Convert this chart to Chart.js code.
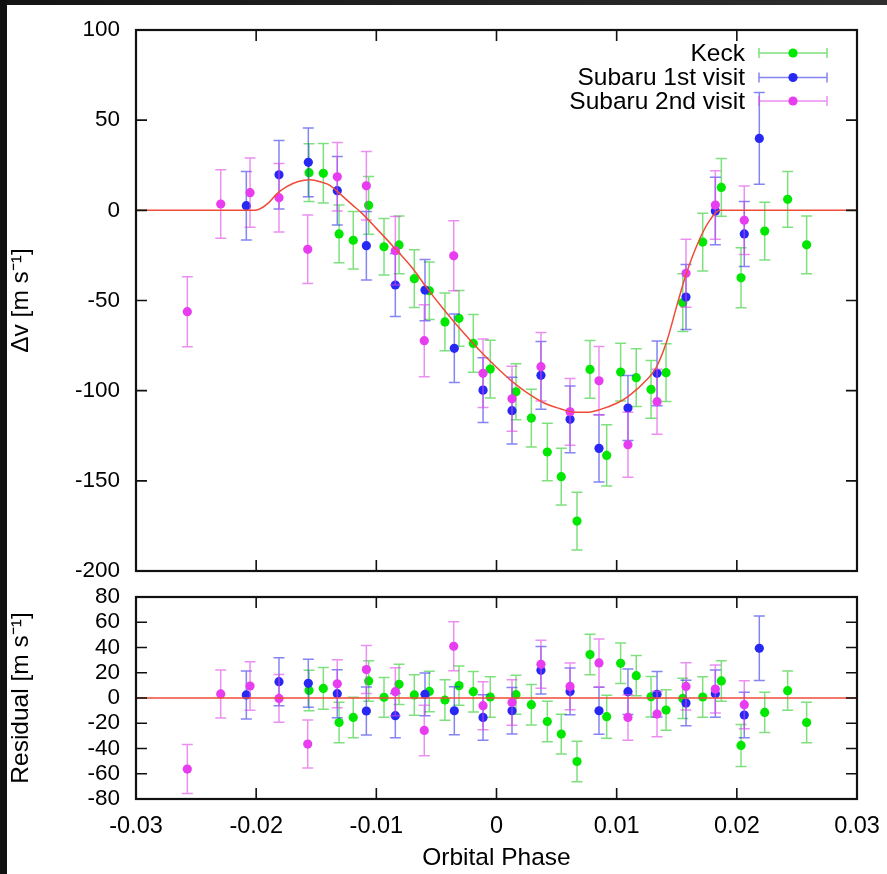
<!DOCTYPE html>
<html>
<head>
<meta charset="utf-8">
<script src="https://cdn.jsdelivr.net/npm/chart.js@4.4.1/dist/chart.umd.min.js"></script>
<style>
  html, body { margin: 0; padding: 0; background: #fff; }
  #wrap { position: relative; width: 887px; height: 874px; overflow: hidden; background: #fff; }
  #wrap canvas { position: absolute; left: 0; top: 0; }
  #frameTop { position: absolute; left: 0; top: 0; width: 887px; height: 5px; background: linear-gradient(to right, #141414, #2e2e2e); }
  #frameLeft { position: absolute; left: 0; top: 0; width: 7px; height: 874px; background: #111; }
</style>
</head>
<body>
<div id="wrap">
  <canvas id="rvChart" width="887" height="874"></canvas>
  <canvas id="resChart" width="887" height="874"></canvas>
  <div id="frameTop"></div>
  <div id="frameLeft"></div>
</div>
<script>
// Keck
var keckPhase = [-0.01560, -0.01441, -0.01310, -0.01192, -0.01064, -0.00936, -0.00811, -0.00684, -0.00559, -0.00429,
                 -0.00312, -0.00193, -0.00052, 0.00162, 0.00290, 0.00423, 0.00539, 0.00670, 0.00778, 0.00917,
                 0.01033, 0.01163, 0.01286, 0.01411, 0.01550, 0.01716, 0.01871, 0.02035, 0.02232, 0.02423, 0.02581];
var keckRv = [20.9, 20.5, -13.1, -16.6, 2.8, -20.2, -19.2, -37.9, -44.6, -61.9,
              -59.9, -73.8, -88.0, -100.6, -115.2, -134.0, -147.7, -172.3, -88.2, -135.9,
              -89.7, -92.8, -99.3, -90.0, -51.2, -17.6, 12.7, -37.4, -11.5, 6.1, -19.1];
var keckErr = [16, 16.5, 16, 16, 16, 15.7, 16, 16, 16, 16,
               15.5, 16, 16, 15.5, 16, 16, 15.7, 16, 16, 17,
               16, 16, 16, 16, 16, 16, 16, 16.6, 16, 15.5, 16];
var keckRes = [6.0, 7.6, -19.4, -15.4, 13.5, 0.5, 10.8, 2.4, 5.2, -1.6,
               9.8, 5.0, 0.8, 2.6, -5.3, -18.6, -28.6, -50.3, 34.4, -14.8,
               27.5, 17.7, 1.0, -9.5, -0.3, 0.8, 13.5, -37.6, -11.4, 5.8, -19.4];

// Subaru 1st visit
var sub1Phase = [-0.02082, -0.01810, -0.01566, -0.01325, -0.01083, -0.00842, -0.00595, -0.00351, -0.00112, 0.00129,
                 0.00370, 0.00612, 0.00853, 0.01094, 0.01336, 0.01577, 0.01821, 0.02062, 0.02187];
var sub1Rv = [2.6, 19.7, 26.6, 10.9, -19.6, -41.4, -44.2, -76.5, -99.7, -111.1,
              -91.5, -115.9, -132.0, -109.6, -90.4, -48.1, -0.4, -13.1, 39.9];
var sub1Err = [19, 19, 19, 19, 19, 17.5, 17, 19, 18, 18.5,
               18.8, 18.5, 18.7, 18, 18, 18, 18.7, 18, 25.5];
var sub1Res = [2.4, 12.9, 11.6, 3.4, -10.3, -14.0, 2.9, -10.1, -15.4, -10.1,
               21.9, 5.2, -10.1, 5.0, 2.9, -4.0, 3.4, -13.5, 39.4];

// Subaru 2nd visit
var sub2Phase = [-0.02573, -0.02295, -0.02051, -0.01810, -0.01571, -0.01325, -0.01083, -0.00842, -0.00601, -0.00356,
                 -0.00112, 0.00129, 0.00370, 0.00612, 0.00853, 0.01094, 0.01336, 0.01577, 0.01821, 0.02062];
var sub2Rv = [-56.2, 3.5, 9.8, 7.0, -21.6, 18.6, 13.6, -22.4, -72.3, -25.2,
              -90.4, -104.5, -86.7, -111.7, -94.5, -130.0, -106.1, -34.9, 2.9, -5.5];
var sub2Err = [19.4, 19, 19.2, 19, 19, 19, 19, 19, 20, 19.4,
               19, 18, 19, 18.5, 19, 18, 18, 18.8, 19, 19];
var sub2Res = [-56.3, 3.2, 9.5, -0.3, -36.5, 11.3, 22.5, 5.0, -25.7, 41.0,
               -6.1, -3.5, 26.7, 9.2, 27.8, -15.4, -12.7, 9.2, 7.1, -5.3];

// model curve
var modelPhase = [-0.030, -0.0205, -0.0198, -0.0190, -0.0183, -0.0175, -0.0165, -0.0155, -0.0145, -0.0139,
                  -0.0130, -0.0120, -0.0113, -0.0100, -0.0086, -0.0070, -0.0058, -0.0045, -0.0030, -0.0015,
                  0.0000, 0.0015, 0.0025, 0.0040, 0.0053, 0.0065, 0.0075, 0.0086, 0.0100, 0.0110,
                  0.0125, 0.0133, 0.0142, 0.0150, 0.0158, 0.0169, 0.0178, 0.0186, 0.030];
var modelRv = [0, 0, 0.5, 4, 9, 13, 16, 17, 15.5, 14,
               9, 3, -1, -10, -20, -32, -43, -54, -66, -77,
               -87, -96, -101, -107, -110, -112, -112, -110.5, -107, -103,
               -94, -87, -72, -53, -35, -16, -5, 0, 0];
var resModelPhase = [-0.03, 0.03];
var resModelValue = [0, 0];

var xTicks = [-0.03, -0.02, -0.01, 0, 0.01, 0.02, 0.03];
var xTickLabels = ['-0.03', '-0.02', '-0.01', '0', '0.01', '0.02', '0.03'];
var rvTicks = [-200, -150, -100, -50, 0, 50, 100];
var rvTickLabels = ['-200', '-150', '-100', '-50', '0', '50', '100'];
var resTicks = [-80, -60, -40, -20, 0, 20, 40, 60, 80];
var resTickLabels = ['-80', '-60', '-40', '-20', '0', '20', '40', '60', '80'];

var FONT = "'Liberation Sans', Arial, Helvetica, sans-serif";
var keckCol = 'rgb(0,232,0)', keckBar = 'rgba(40,205,40,0.6)';
var sub1Col = 'rgb(40,40,245)', sub1Bar = 'rgba(50,50,235,0.6)';
var sub2Col = 'rgb(232,60,240)', sub2Bar = 'rgba(222,70,232,0.6)';
var modelCol = 'rgb(240,75,55)';

function pts(xs, ys) {
  return xs.map(function(v, i) { return {x: v, y: ys[i]}; });
}

var errorBars = {
  id: 'errorBars',
  beforeDatasetDraw: function(chart, args) {
    var ds = chart.data.datasets[args.index];
    if (!ds.errors) return;
    var ctx = chart.ctx, x = chart.scales.x, y = chart.scales.y;
    ctx.save();
    ctx.strokeStyle = ds.barColor;
    ctx.lineWidth = 1.5;
    ctx.beginPath();
    ds.data.forEach(function(p, i) {
      var px = x.getPixelForValue(p.x);
      var top = y.getPixelForValue(p.y + ds.errors[i]);
      var bot = y.getPixelForValue(p.y - ds.errors[i]);
      ctx.moveTo(px, top); ctx.lineTo(px, bot);
      ctx.moveTo(px - 5.5, top); ctx.lineTo(px + 5.5, top);
      ctx.moveTo(px - 5.5, bot); ctx.lineTo(px + 5.5, bot);
    });
    ctx.stroke();
    ctx.restore();
  }
};

var frameTicks = {
  id: 'frameTicks',
  afterDraw: function(chart, args, opts) {
    var ctx = chart.ctx, a = chart.chartArea, x = chart.scales.x, y = chart.scales.y;
    var tl = 11;
    ctx.save();
    ctx.strokeStyle = '#111';
    ctx.lineWidth = 1.6;
    ctx.beginPath();
    opts.xValues.forEach(function(v) {
      if (v <= x.min || v >= x.max) return;
      var px = x.getPixelForValue(v);
      ctx.moveTo(px, a.top); ctx.lineTo(px, a.top + tl);
      ctx.moveTo(px, a.bottom); ctx.lineTo(px, a.bottom - tl);
    });
    opts.yValues.forEach(function(v) {
      if (v <= y.min || v >= y.max) return;
      var py = y.getPixelForValue(v);
      ctx.moveTo(a.left, py); ctx.lineTo(a.left + tl, py);
      ctx.moveTo(a.right, py); ctx.lineTo(a.right - tl, py);
    });
    ctx.stroke();
    ctx.lineWidth = 2.2;
    ctx.strokeRect(a.left, a.top, a.right - a.left, a.bottom - a.top);
    ctx.restore();
  }
};

var keyBox = {
  id: 'keyBox',
  afterDraw: function(chart, args, opts) {
    if (!opts.show) return;
    var ctx = chart.ctx;
    var rows = [[0, 53], [1, 77.5], [2, 101]];
    ctx.save();
    ctx.font = '24.5px ' + FONT;
    ctx.textAlign = 'right';
    ctx.textBaseline = 'middle';
    rows.forEach(function(r) {
      var ds = chart.data.datasets[r[0]];
      var yy = r[1];
      ctx.fillStyle = '#000';
      ctx.fillText(ds.label, 745, yy + 1);
      ctx.strokeStyle = ds.barColor;
      ctx.lineWidth = 1.5;
      ctx.beginPath();
      ctx.moveTo(759, yy); ctx.lineTo(827, yy);
      ctx.moveTo(759, yy - 5); ctx.lineTo(759, yy + 5);
      ctx.moveTo(827, yy - 5); ctx.lineTo(827, yy + 5);
      ctx.stroke();
      ctx.fillStyle = ds.pointBackgroundColor;
      ctx.beginPath();
      ctx.arc(793, yy, 4.6, 0, Math.PI * 2);
      ctx.fill();
    });
    ctx.restore();
  }
};

function pointSet(label, xs, ys, errs, col, bar, order) {
  return {
    label: label, data: pts(xs, ys), errors: errs, barColor: bar,
    showLine: false, pointRadius: 4.6, pointHoverRadius: 4.6,
    pointBackgroundColor: col, pointBorderColor: col, pointBorderWidth: 0,
    order: order
  };
}

function xScale(show) {
  return {
    type: 'linear', min: -0.03, max: 0.03, display: show,
    afterBuildTicks: function(s) { s.ticks = xTicks.map(function(v) { return {value: v}; }); },
    afterFit: function(s) {
      if (show) s.height = 75;
      s.paddingLeft = 0;
      s.paddingRight = 0;
    },
    grid: {display: false, drawTicks: false},
    border: {display: false},
    ticks: {
      color: '#000', font: {family: FONT, size: 23.5}, padding: 13, maxRotation: 0, autoSkip: false,
      callback: function(v, i) { return xTickLabels[i]; }
    },
    title: {display: show, text: 'Orbital Phase', color: '#000', font: {family: FONT, size: 24.5}, padding: {top: 0, bottom: 1}}
  };
}

function yScale(min, max, ticks, labels, title) {
  return {
    type: 'linear', min: min, max: max,
    afterBuildTicks: function(s) { s.ticks = ticks.map(function(v) { return {value: v}; }); },
    afterFit: function(s) { s.width = 136; },
    grid: {display: false, drawTicks: false},
    border: {display: false},
    ticks: {
      color: '#000', font: {family: FONT, size: 22.5}, padding: 16, autoSkip: false,
      callback: function(v, i) { return labels[i]; }
    },
    title: {display: true, text: title, color: '#000', font: {family: FONT, size: 24.5}, padding: {top: 7, bottom: 0}}
  };
}

new Chart(document.getElementById('rvChart'), {
  type: 'scatter',
  data: {
    datasets: [
      pointSet('Keck', keckPhase, keckRv, keckErr, keckCol, keckBar, 3),
      pointSet('Subaru 1st visit', sub1Phase, sub1Rv, sub1Err, sub1Col, sub1Bar, 2),
      pointSet('Subaru 2nd visit', sub2Phase, sub2Rv, sub2Err, sub2Col, sub2Bar, 1),
      {
        label: 'model', data: pts(modelPhase, modelRv), showLine: true, pointRadius: 0,
        borderColor: modelCol, borderWidth: 1.5, cubicInterpolationMode: 'monotone', order: 0
      }
    ]
  },
  options: {
    responsive: false, animation: false,
    layout: {padding: {top: 30, bottom: 303, left: 0, right: 30}},
    plugins: {
      legend: {display: false}, tooltip: {enabled: false},
      frameTicks: {xValues: xTicks, yValues: rvTicks},
      keyBox: {show: true}
    },
    scales: {
      x: xScale(false),
      y: yScale(-200, 100, rvTicks, rvTickLabels, 'Δv [m s⁻¹]')
    }
  },
  plugins: [errorBars, frameTicks, keyBox]
});

new Chart(document.getElementById('resChart'), {
  type: 'scatter',
  data: {
    datasets: [
      pointSet('Keck', keckPhase, keckRes, keckErr, keckCol, keckBar, 3),
      pointSet('Subaru 1st visit', sub1Phase, sub1Res, sub1Err, sub1Col, sub1Bar, 2),
      pointSet('Subaru 2nd visit', sub2Phase, sub2Res, sub2Err, sub2Col, sub2Bar, 1),
      {
        label: 'zero', data: pts(resModelPhase, resModelValue), showLine: true, pointRadius: 0,
        borderColor: modelCol, borderWidth: 1.3, order: 0
      }
    ]
  },
  options: {
    responsive: false, animation: false,
    layout: {padding: {top: 597, bottom: 0, left: 0, right: 30}},
    plugins: {
      legend: {display: false}, tooltip: {enabled: false},
      frameTicks: {xValues: xTicks, yValues: resTicks},
      keyBox: {show: false}
    },
    scales: {
      x: xScale(true),
      y: yScale(-80, 80, resTicks, resTickLabels, 'Residual [m s⁻¹]')
    }
  },
  plugins: [errorBars, frameTicks, keyBox]
});
</script>
</body>
</html>
